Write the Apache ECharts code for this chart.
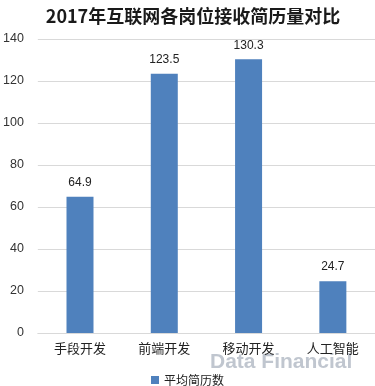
<!DOCTYPE html>
<html><head><meta charset="utf-8">
<script src="https://cdn.jsdelivr.net/npm/echarts@6/dist/echarts.min.js"></script>
<style>html,body{margin:0;padding:0;background:#fff}#c{width:375px;height:386px}</style>
</head><body><div id="c"></div>
<script>
const title = '2017年互联网各岗位接收简历量对比';
const categories = ['手段开发', '前端开发', '移动开发', '人工智能'];
const seriesName = '平均简历数';
const values = [64.9, 123.5, 130.3, 24.7];
const yTicks = [0, 20, 40, 60, 80, 100, 120, 140];

const chart = echarts.init(document.getElementById('c'));
chart.setOption({
  animation: false,
  title: {
    text: title, left: 188, top: 2, textAlign: 'center',
    textStyle: {fontFamily: 'Noto Sans CJK SC', fontWeight: 'bold', fontSize: 18, color: '#1a1a1a'}
  },
  grid: {left: 34, top: 39, width: 346, height: 294, containLabel: false},
  legend: {
    data: [seriesName], top: 369, left: 'center', itemWidth: 8, itemHeight: 8, icon: 'rect', itemGap: 4,
    textStyle: {fontFamily: 'Noto Sans CJK SC', fontSize: 12, color: '#222'}
  },
  xAxis: {
    type: 'category', data: categories,
    axisLine: {lineStyle: {color: '#d9d9d9'}}, axisTick: {show: false},
    axisLabel: {fontFamily: 'Noto Sans CJK SC', fontSize: 13, color: '#222', margin: 9}
  },
  yAxis: {
    type: 'value', min: yTicks[0], max: yTicks[yTicks.length - 1], interval: 20,
    axisLine: {show: false}, axisTick: {show: false},
    axisLabel: {fontFamily: 'Liberation Sans', fontSize: 12.5, color: '#333', margin: 14},
    splitLine: {lineStyle: {color: '#d9d9d9'}}
  },
  series: [{
    name: seriesName, type: 'bar', data: values, barWidth: 27,
    itemStyle: {color: '#4f81bd'},
    label: {show: true, position: 'top', distance: 8, fontFamily: 'Liberation Sans', fontSize: 12, color: '#222'}
  }],
  graphic: [{
    type: 'text', left: 210, top: 352, z: 0,
    style: {text: 'Data Financial', font: 'bold 21px Liberation Sans', fill: 'rgba(150,160,175,0.6)'}
  }]
});
</script></body></html>
